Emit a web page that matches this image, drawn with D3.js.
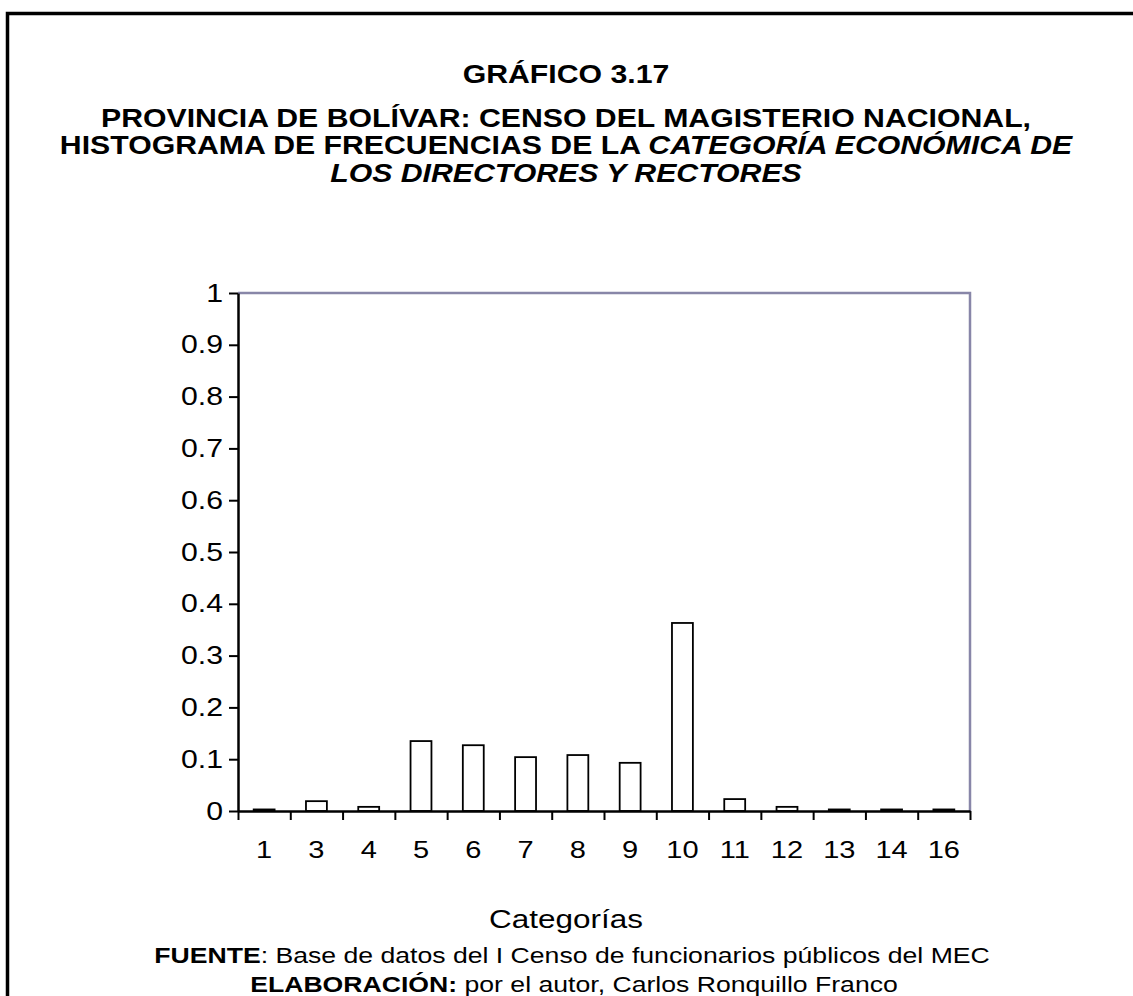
<!DOCTYPE html>
<html>
<head>
<meta charset="utf-8">
<script src="https://cdn.jsdelivr.net/npm/d3@7"></script>
<style>
  body { margin: 0; background: #fff; }
  svg { display: block; font-family: "Liberation Sans", Arial, sans-serif; }
</style>
</head>
<body>
<div id="chart"></div>
<script>
const width = 1133, height = 996;
const plotLeft = 238, plotRight = 970, plotTop = 293, plotBottom = 811;
const centerX = 566;

// data
const categories = ["1", "3", "4", "5", "6", "7", "8", "9", "10", "11", "12", "13", "14", "16"];
const frequencies = [0.003, 0.019, 0.008, 0.135, 0.127, 0.104, 0.108, 0.093, 0.363, 0.023, 0.008, 0.003, 0.003, 0.003];
const yTicks = [0, 0.1, 0.2, 0.3, 0.4, 0.5, 0.6, 0.7, 0.8, 0.9, 1];

const svg = d3.select("#chart").append("svg")
    .attr("width", width)
    .attr("height", height);

// text in the original is drawn a bit wider than it is tall
const sx = 1.21;
function wideText(parent, x, y) {
    return parent.append("text")
        .attr("transform", "translate(" + x + "," + y + ") scale(" + sx + ",1)");
}

// outer frame (open to the right and bottom)
svg.append("path")
    .attr("d", "M7.5," + height + " V13.5 H" + width)
    .attr("fill", "none")
    .attr("stroke", "#000")
    .attr("stroke-width", 3.5);

// titles
const title = svg.append("g").attr("text-anchor", "middle").attr("font-weight", "bold").attr("font-size", 25);
wideText(title, centerX, 83).text("GRÁFICO 3.17");
wideText(title, centerX, 127).text("PROVINCIA DE BOLÍVAR: CENSO DEL MAGISTERIO NACIONAL,");
const l3 = wideText(title, centerX, 154);
l3.append("tspan").text("HISTOGRAMA DE FRECUENCIAS DE LA ");
l3.append("tspan").attr("font-style", "italic").text("CATEGORÍA ECONÓMICA DE");
wideText(title, centerX, 182).attr("font-style", "italic").text("LOS DIRECTORES Y RECTORES");

const x = d3.scaleBand()
    .domain(categories)
    .range([plotLeft, plotRight])
    .padding(0);

const xEdges = d3.scaleLinear()
    .domain([0, categories.length])
    .range([plotLeft, plotRight]);

const y = d3.scaleLinear()
    .domain([0, 1])
    .range([plotBottom, plotTop]);

// plot border (top and right)
svg.append("path")
    .attr("d", "M" + plotLeft + "," + plotTop + " H" + plotRight + " V" + plotBottom)
    .attr("fill", "none")
    .attr("stroke", "#8886a8")
    .attr("stroke-width", 2.5);

// bars
const barW = x.bandwidth() * 0.4;
svg.append("g").selectAll("rect")
    .data(frequencies)
    .enter().append("rect")
    .attr("x", (d, i) => x(categories[i]) + (x.bandwidth() - barW) / 2)
    .attr("y", d => y(d))
    .attr("width", barW)
    .attr("height", d => y(0) - y(d))
    .attr("fill", "#fff")
    .attr("stroke", "#000")
    .attr("stroke-width", 1.8);

// y axis
const yAxis = svg.append("g")
    .attr("transform", "translate(" + plotLeft + ",0)")
    .call(d3.axisLeft(y).tickValues(yTicks).tickSize(9).tickSizeOuter(0).tickPadding(6)
        .tickFormat(d => String(+d.toFixed(1))));
yAxis.select(".domain").attr("stroke-width", 2.5);
yAxis.selectAll(".tick line").attr("stroke-width", 2);
yAxis.selectAll("text")
    .attr("font-size", 25)
    .attr("fill", "#000")
    .attr("font-family", "Liberation Sans, Arial, sans-serif")
    .attr("x", -15 / sx)
    .attr("transform", "scale(" + sx + ",1)");

// x axis: boundary ticks
const xAxis = svg.append("g")
    .attr("transform", "translate(0," + plotBottom + ")")
    .call(d3.axisBottom(xEdges).ticks(categories.length).tickSize(9).tickSizeOuter(0).tickFormat(""));
xAxis.select(".domain").attr("stroke-width", 2.5);
xAxis.selectAll(".tick line").attr("stroke-width", 2);

// x labels at band centres
const xLabels = svg.append("g")
    .attr("transform", "translate(0," + plotBottom + ")")
    .call(d3.axisBottom(x).tickSize(0).tickPadding(30));
xLabels.select(".domain").remove();
xLabels.selectAll("text")
    .attr("font-size", 24)
    .attr("fill", "#000")
    .attr("font-family", "Liberation Sans, Arial, sans-serif")
    .attr("transform", "scale(" + sx + ",1)");

// axis title
wideText(svg, centerX, 928)
    .attr("text-anchor", "middle")
    .attr("font-size", 26)
    .text("Categorías");

// source notes
const src = svg.append("g").attr("text-anchor", "middle").attr("font-size", 22);
const s1 = wideText(src, 572, 963);
s1.append("tspan").attr("font-weight", "bold").text("FUENTE");
s1.append("tspan").text(": Base de datos del I Censo de funcionarios públicos del MEC");
const s2 = wideText(src, 574, 992);
s2.append("tspan").attr("font-weight", "bold").text("ELABORACIÓN:");
s2.append("tspan").text(" por el autor, Carlos Ronquillo Franco");
</script>
</body>
</html>
